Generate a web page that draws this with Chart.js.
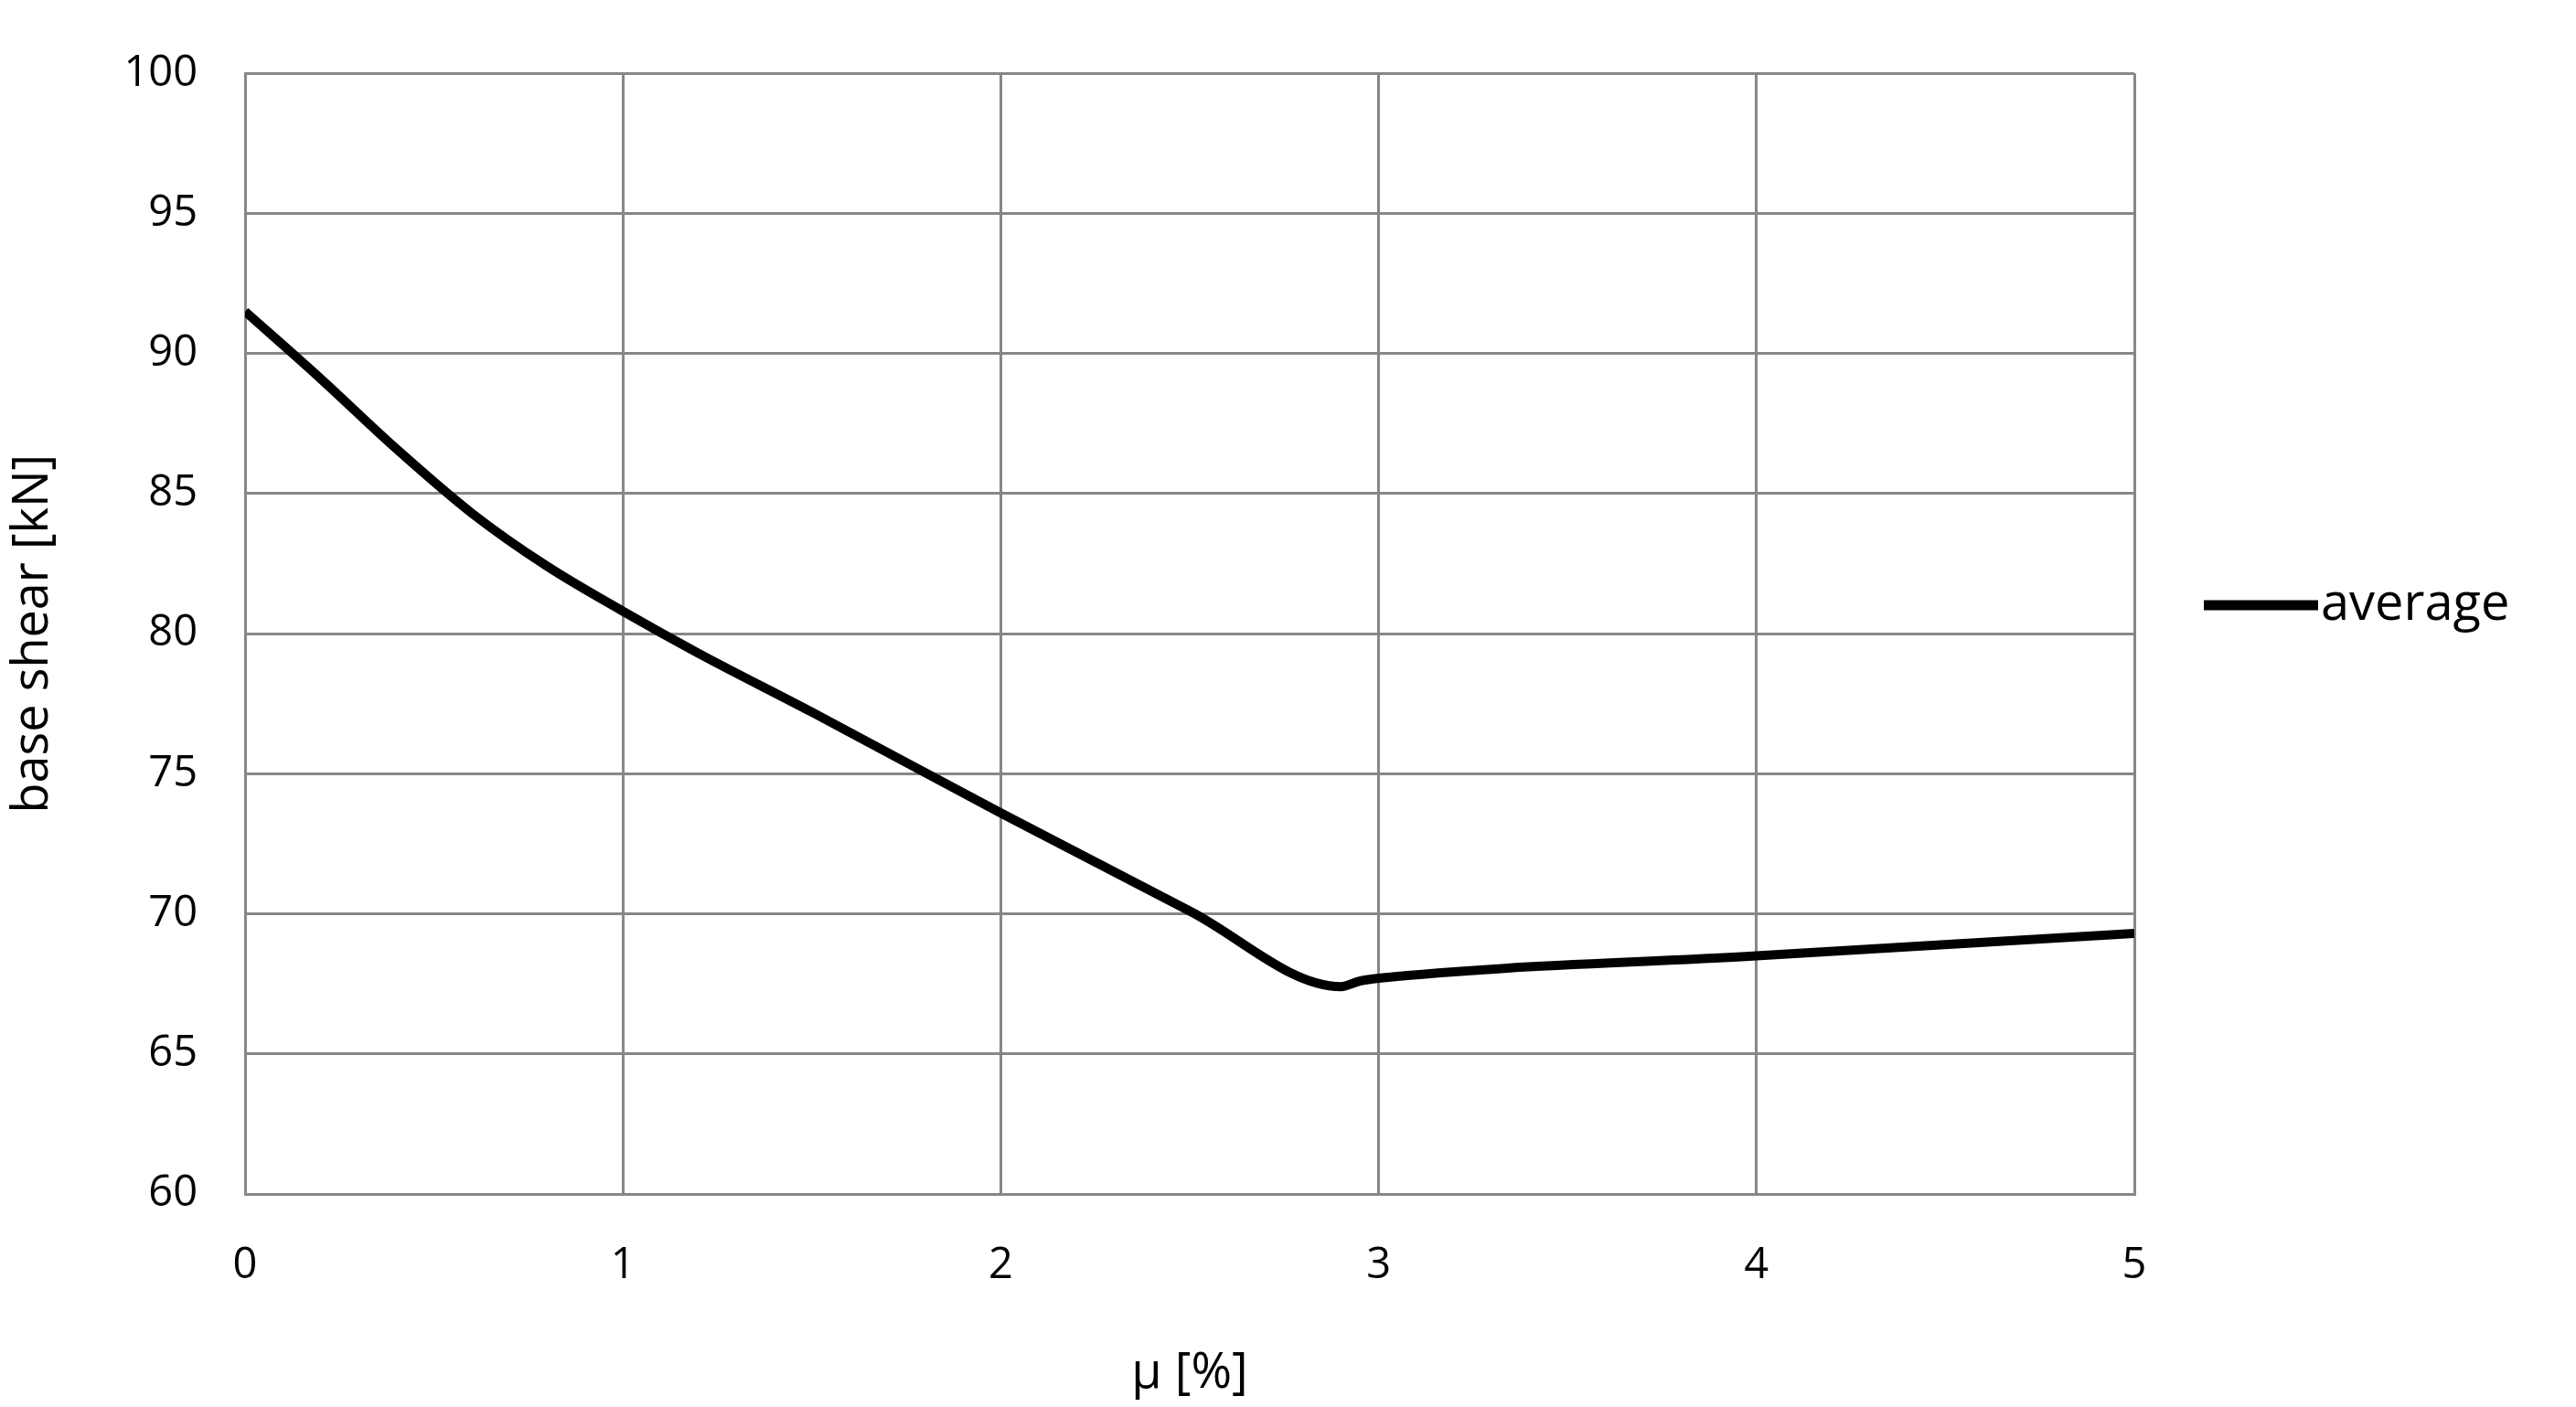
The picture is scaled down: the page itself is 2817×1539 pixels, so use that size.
<!DOCTYPE html>
<html>
<head>
<meta charset="utf-8">
<script src="https://cdn.jsdelivr.net/npm/chart.js@4/dist/chart.umd.min.js"></script>
<style>
  html, body { margin: 0; padding: 0; background: #fff; }
  #wrap { width: 2817px; height: 1539px; }
</style>
</head>
<body>
<div id="wrap"><canvas id="myLineChart"></canvas></div>
<script>
// valores
const muValues = [0, 0.2, 0.4, 0.6, 0.8, 1.0, 1.2, 1.5, 2.0, 2.5, 2.9, 2.95, 3.0, 4.0, 5.0];
const shearValues = [91.5, 89.1, 86.6, 84.3, 82.4, 80.8, 79.3, 77.2, 73.6, 70.1, 67.4, 67.6, 67.7, 68.5, 69.3];
const seriesLabel = 'average';
const xTicks = [0, 1, 2, 3, 4, 5];
const yTicks = [60, 65, 70, 75, 80, 85, 90, 95, 100];

const font = "'Liberation Sans Narrow', 'Open Sans', sans-serif";

const legendPlugin = { // leyenda dibujada a mano a la derecha
    id: 'sideLegend',
    afterDraw(chart) {
        const ctx = chart.ctx;
        const y = 662;
        ctx.save();
        ctx.strokeStyle = '#000';
        ctx.lineWidth = 11;
        ctx.beginPath();
        ctx.moveTo(2410, y);
        ctx.lineTo(2535, y);
        ctx.stroke();
        ctx.fillStyle = '#000';
        ctx.font = '56px ' + font;
        ctx.textBaseline = 'middle';
        ctx.fillText(seriesLabel, 2538, y);
        ctx.restore();
    }
};

const config = {
    type: 'line',
    data: {
        datasets: [{
            label: seriesLabel,
            data: muValues.map((m, i) => ({ x: m, y: shearValues[i] })),
            borderColor: '#000',
            borderWidth: 10,
            pointRadius: 0,
            cubicInterpolationMode: 'monotone',
            fill: false
        }]
    },
    options: {
        responsive: false,
        animation: false,
        layout: { padding: { top: 70, right: 483, left: 0, bottom: 0 } },
        plugins: { legend: { display: false }, tooltip: { enabled: false } },
        scales: {
            x: {
                type: 'linear', min: 0, max: 5,
                afterBuildTicks: s => { s.ticks = xTicks.map(v => ({ value: v })); },
                afterFit: s => { s.height = 1539 - 1306; },
                grid: { color: '#878787', lineWidth: 3, drawTicks: false },
                border: { color: '#878787', width: 3 },
                ticks: { color: '#000', font: { size: 47, family: font }, padding: 50 },
                title: { display: true, text: 'μ [%]', color: '#000', font: { size: 54, family: font }, padding: { top: 20 } }
            },
            y: {
                min: 60, max: 100,
                afterBuildTicks: s => { s.ticks = yTicks.map(v => ({ value: v })); },
                afterFit: s => { s.width = 268; },
                grid: { color: '#878787', lineWidth: 3, drawTicks: false },
                border: { color: '#878787', width: 3 },
                ticks: { color: '#000', font: { size: 47, family: font }, padding: 52 },
                title: { display: true, text: 'base shear [kN]', color: '#000', font: { size: 54, family: font }, padding: { bottom: 10 } }
            }
        }
    },
    plugins: [legendPlugin]
};

const canvas = document.getElementById('myLineChart');
canvas.width = 2817;
canvas.height = 1539;
new Chart(canvas, config);
</script>
</body>
</html>
